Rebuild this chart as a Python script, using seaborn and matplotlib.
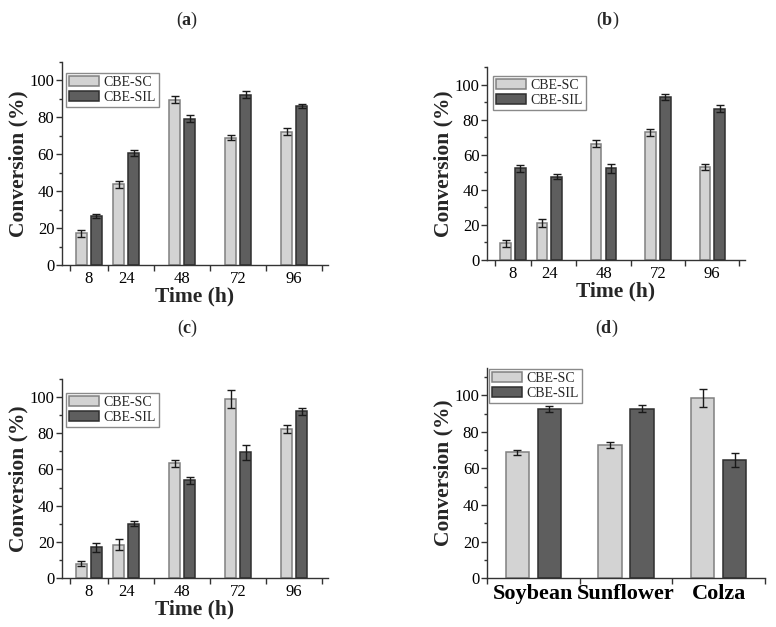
import matplotlib.pyplot as plt
import seaborn as sns
import pandas as pd

# dados
tempo = [8, 24, 48, 72, 96]
oleos = ['Soybean', 'Sunflower', 'Colza']
series = ['CBE-SC', 'CBE-SIL']

# (a)
a_sc = [17.1, 43.6, 89.5, 69.0, 72.3]
a_sc_err = [2.0, 2.0, 1.8, 1.3, 1.8]
a_sil = [26.5, 60.7, 79.3, 92.3, 86.1]
a_sil_err = [1.0, 1.8, 2.0, 1.8, 1.0]

# (b)
b_sc = [9.5, 20.9, 66.4, 72.7, 52.9]
b_sc_err = [2.0, 2.3, 2.0, 2.0, 1.8]
b_sil = [52.2, 47.6, 52.2, 93.0, 86.3]
b_sil_err = [1.8, 1.3, 2.5, 1.8, 2.0]

# (c)
c_sc = [7.9, 18.5, 63.4, 98.9, 82.4]
c_sc_err = [1.5, 2.8, 1.8, 5.0, 2.0]
c_sil = [17.0, 30.1, 54.0, 69.5, 92.2]
c_sil_err = [2.5, 1.5, 2.0, 4.0, 2.0]

# (d)
d_sc = [68.8, 72.8, 98.5]
d_sc_err = [1.3, 1.8, 5.0]
d_sil = [92.5, 92.8, 64.6]
d_sil_err = [1.8, 1.8, 4.0]

cores = {'CBE-SC': '#d3d3d3', 'CBE-SIL': '#5e5e5e'}
bordas = ['#808080', '#2e2e2e']

sns.set_style('ticks')
plt.rcParams['font.family'] = ['Liberation Serif', 'DejaVu Serif']
plt.rcParams['mathtext.fontset'] = 'custom'
plt.rcParams['mathtext.rm'] = 'Liberation Serif'
plt.rcParams['mathtext.bf'] = 'Liberation Serif:bold'


def painel(ax, x, sc, sc_err, sil, sil_err, numerico, leg_pos, ymax):
    df = pd.DataFrame({
        'x': list(x) * 2,
        'conv': sc + sil,
        'serie': [series[0]] * len(x) + [series[1]] * len(x),
    })
    erros = [sc_err, sil_err]
    if numerico:
        sns.barplot(data=df, x='x', y='conv', hue='serie', native_scale=True,
                    palette=cores, width=0.82, gap=0.29, errorbar=None,
                    legend=False, ax=ax)
    else:
        sns.barplot(data=df, x='x', y='conv', hue='serie',
                    palette=cores, width=0.69, gap=0.27, errorbar=None,
                    legend=False, ax=ax)

    # bordas e barras de erro
    conts = list(ax.containers[:2])
    for i, cont in enumerate(conts):
        barras = sorted(cont.patches, key=lambda b: b.get_x())
        cx = []
        hy = []
        for b in barras:
            b.set_edgecolor(bordas[i])
            b.set_linewidth(1.1)
            cx.append(b.get_x() + b.get_width() / 2)
            hy.append(b.get_height())
        ax.errorbar(cx, hy, yerr=erros[i], fmt='none', ecolor='#1a1a1a',
                    elinewidth=1, capsize=2.6, capthick=1, zorder=5)

    leg = ax.legend(conts, series, loc='upper left', bbox_to_anchor=leg_pos,
                    fontsize=10, frameon=True, fancybox=False, framealpha=1,
                    edgecolor='#8a8a8a', handlelength=2.15, handleheight=0.7,
                    labelspacing=0.15, borderpad=0.2, handletextpad=0.35,
                    borderaxespad=0)
    leg.set_zorder(10)

    # limites das categorias (ticks nos limites, rotulos no centro)
    if numerico:
        pos = list(x)
        lim = [pos[0] - (pos[1] - pos[0]) / 2]
        lim += [(pos[k] + pos[k + 1]) / 2 for k in range(len(pos) - 1)]
        lim += [pos[-1] + (pos[-1] - pos[-2]) / 2]
        ax.set_xticks(pos)
        ax.set_xticklabels([str(t) for t in pos], fontsize=12)
        ax.set_xlim(-3.5, 110.5)
        ax.set_xlabel('Time (h)', fontsize=15.5, fontweight='bold', labelpad=0)
    else:
        pos = list(range(len(x)))
        lim = [p - 0.5 for p in pos] + [pos[-1] + 0.5]
        ax.set_xticks(pos)
        ax.set_xticklabels(x, fontsize=16, fontweight='bold')
        ax.set_xlim(-0.5, len(x) - 0.5)
        ax.set_xlabel('')
    ax.set_xticks(lim, minor=True)
    ax.tick_params(axis='x', which='major', length=0, pad=4)
    ax.tick_params(axis='x', which='minor', length=4, width=1, direction='out')

    ax.set_ylim(0, ymax)
    ax.set_yticks(range(0, 101, 20))
    ax.set_yticks(range(10, int(ymax) + 1, 20), minor=True)
    ax.tick_params(axis='y', which='major', length=4.5, width=1, labelsize=12, pad=1)
    ax.tick_params(axis='y', which='minor', length=2.5, width=1)
    ax.set_ylabel('Conversion (%)', fontsize=15.5, fontweight='bold', labelpad=1)

    sns.despine(ax=ax)
    for s in ['left', 'bottom']:
        ax.spines[s].set_color('#333333')
        ax.spines[s].set_linewidth(1)
    ax.tick_params(colors='#333333', labelcolor='black', which='both')


fig = plt.figure(figsize=(7.76, 6.27), dpi=100)

ax_a = fig.add_axes([0.0799, 0.5774, 0.3428, 0.3238])
ax_b = fig.add_axes([0.6276, 0.5853, 0.3325, 0.3078])
ax_c = fig.add_axes([0.0799, 0.0781, 0.3428, 0.3174])
ax_d = fig.add_axes([0.6276, 0.0781, 0.3582, 0.3349])

painel(ax_a, tempo, a_sc, a_sc_err, a_sil, a_sil_err, True, (0.015, 0.946), 110)
painel(ax_b, tempo, b_sc, b_sc_err, b_sil, b_sil_err, True, (0.023, 0.953), 110)
painel(ax_c, tempo, c_sc, c_sc_err, c_sil, c_sil_err, True, (0.015, 0.93), 110)
painel(ax_d, oleos, d_sc, d_sc_err, d_sil, d_sil_err, False, (0.007, 0.995), 115)

# titulos dos paineis
fig.text(187 / 776, 1 - 20 / 627, r'($\mathbf{a}$)', ha='center', va='center', fontsize=13)
fig.text(608 / 776, 1 - 20 / 627, r'($\mathbf{b}$)', ha='center', va='center', fontsize=13)
fig.text(188 / 776, 1 - 328 / 627, r'($\mathbf{c}$)', ha='center', va='center', fontsize=13)
fig.text(607 / 776, 1 - 328 / 627, r'($\mathbf{d}$)', ha='center', va='center', fontsize=13)

plt.savefig('out.png', dpi=100)
